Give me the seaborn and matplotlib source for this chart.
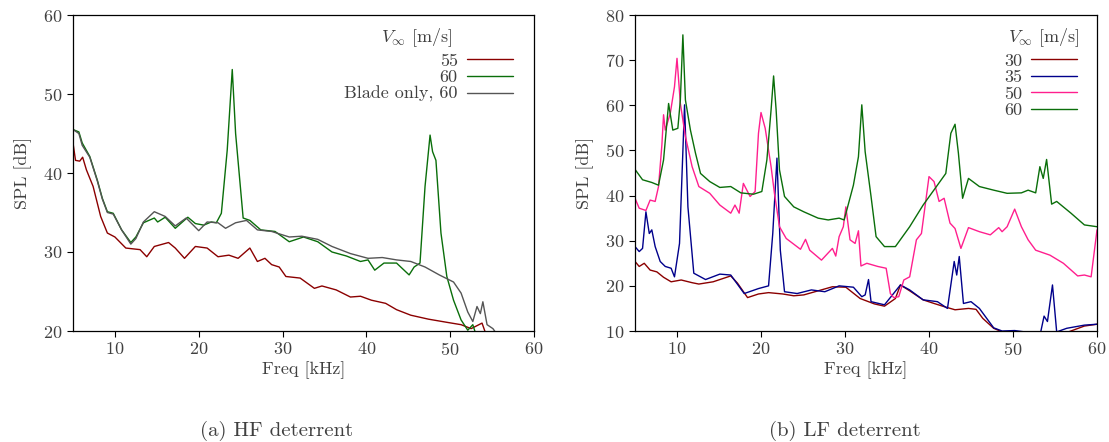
import numpy as np
import pandas as pd
import matplotlib
matplotlib.use("Agg")
import matplotlib.pyplot as plt
import seaborn as sns

# %% data (freq in kHz, SPL in dB)

# (a) HF deterrent
hf_55_f = [5.0, 5.3, 5.8, 6.15, 6.6, 7.4, 8.3, 9.1, 10.0, 11.3, 13.0, 13.8, 14.7, 16.4, 17.2, 18.3,
           19.6, 21.0, 22.3, 23.6, 24.7, 26.1, 27.0, 27.9, 28.7, 29.6, 30.4, 32.1, 33.8, 34.7, 36.4,
           38.1, 39.3, 40.6, 42.3, 43.6, 45.3, 47.4, 49.6, 51.3, 52.5, 53.8, 54.2]
hf_55_s = [43.8, 41.6, 41.5, 42.0, 40.4, 38.3, 34.5, 32.4, 31.9, 30.5, 30.3, 29.4, 30.7, 31.2, 30.5, 29.2,
           30.7, 30.5, 29.4, 29.6, 29.2, 30.5, 28.8, 29.2, 28.4, 28.1, 26.9, 26.7, 25.4, 25.7, 25.2,
           24.3, 24.4, 23.9, 23.5, 22.7, 22.0, 21.5, 21.1, 20.8, 20.3, 21.0, 19.8]

hf_60_f = [5.0, 5.7, 6.1, 7.0, 7.9, 8.5, 9.1, 9.8, 10.8, 11.9, 12.5, 13.4, 14.7, 15.1, 16.0, 17.2,
           18.7, 19.6, 20.6, 21.5, 22.1, 22.7, 23.4, 24.0, 24.4, 25.3, 26.1, 27.4, 29.1, 30.8, 32.5,
           34.2, 35.9, 37.6, 39.3, 40.2, 41.0, 42.1, 43.6, 45.1, 45.7, 46.4, 47.0, 47.6, 47.9, 48.3,
           48.9, 49.6, 50.4, 51.3, 52.1, 52.7, 53.0]
hf_60_s = [45.5, 45.2, 43.8, 42.1, 39.1, 36.8, 35.1, 34.9, 32.8, 31.2, 31.9, 33.7, 34.3, 33.8, 34.4, 33.0,
           34.4, 33.6, 33.4, 33.8, 33.7, 34.9, 42.9, 53.1, 45.0, 34.3, 34.0, 32.8, 32.6, 31.3, 31.9,
           31.3, 30.0, 29.5, 28.8, 29.0, 27.7, 28.6, 28.6, 27.1, 28.1, 28.6, 38.3, 44.8, 42.7, 41.6,
           32.4, 26.9, 23.9, 21.4, 20.1, 20.8, 19.8]

hf_blade_f = [5.0, 5.7, 6.1, 7.0, 7.9, 8.5, 9.1, 9.8, 10.8, 11.9, 12.5, 13.4, 14.7, 16.0, 17.2, 18.5,
              20.0, 21.0, 22.3, 23.2, 24.4, 25.7, 27.0, 28.7, 30.8, 32.3, 34.2, 35.9, 38.1, 40.2, 41.9,
              43.6, 45.3, 47.0, 48.7, 50.4, 51.3, 52.1, 52.7, 53.2, 53.6, 53.9, 54.4, 55.1, 55.3, 55.6]
hf_blade_s = [45.5, 45.0, 43.5, 42.0, 39.0, 36.7, 35.0, 34.8, 32.8, 31.0, 31.7, 33.8, 35.1, 34.5, 33.3, 34.3,
              32.7, 33.8, 33.7, 33.0, 33.7, 34.0, 32.8, 32.6, 31.9, 32.0, 31.6, 30.7, 29.8, 29.2, 29.3,
              29.0, 28.8, 28.1, 27.1, 26.2, 24.8, 22.4, 21.2, 23.1, 22.2, 23.7, 20.8, 20.3, 20.0, 19.5]

# (b) LF deterrent
lf_30_f = [5.0, 5.5, 6.1, 6.8, 7.6, 8.4, 9.3, 10.5, 11.8, 12.6, 14.3, 16.4, 17.2, 18.4, 19.7, 20.9,
           22.6, 23.9, 25.1, 26.8, 28.5, 30.1, 31.8, 33.5, 34.7, 36.0, 36.6, 37.7, 39.3, 40.6, 41.8,
           43.1, 44.7, 45.6, 46.4, 47.7, 48.7, 52.0, 56.6, 58.5, 60.0]
lf_30_s = [25.4, 24.3, 25.0, 23.5, 23.1, 21.9, 20.9, 21.3, 20.7, 20.4, 20.9, 22.2, 20.6, 17.4, 18.2, 18.5,
           18.2, 17.8, 18.0, 18.9, 19.8, 19.7, 17.2, 16.0, 15.5, 17.2, 20.2, 18.9, 16.9, 16.1, 15.4,
           14.7, 15.0, 14.8, 12.8, 10.6, 9.8, 9.5, 9.8, 11.1, 11.5]

lf_35_f = [5.0, 5.5, 5.9, 6.3, 6.7, 7.0, 7.4, 8.0, 8.6, 9.3, 9.7, 10.3, 10.9, 11.3, 12.0, 13.4, 15.1,
           16.4, 18.0, 19.7, 20.9, 21.4, 21.9, 22.3, 22.8, 24.3, 26.0, 27.6, 29.3, 31.0, 32.0, 32.4,
           32.8, 33.1, 34.7, 36.6, 37.7, 39.3, 41.0, 42.2, 43.0, 43.3, 43.6, 44.1, 45.0, 46.0, 47.7,
           48.7, 50.2, 51.4, 53.3, 53.7, 54.1, 54.7, 55.2, 56.4, 58.5, 60.0]
lf_35_s = [28.7, 27.6, 28.3, 36.4, 31.6, 32.4, 28.7, 25.4, 24.3, 23.9, 22.0, 29.4, 60.1, 37.5, 22.8, 21.4, 22.6,
           22.4, 18.3, 19.4, 20.0, 31.6, 48.3, 27.9, 18.7, 18.3, 19.1, 18.7, 20.0, 19.7, 17.6, 18.0,
           21.4, 16.5, 15.8, 20.2, 19.1, 16.9, 16.5, 15.0, 25.4, 22.4, 26.5, 16.1, 16.5, 15.0, 10.7,
           10.0, 10.1, 9.8, 9.8, 13.3, 12.1, 20.2, 9.8, 10.6, 11.3, 11.5]

lf_50_f = [5.0, 5.5, 6.3, 6.8, 7.4, 7.8, 8.2, 8.4, 8.6, 9.2, 9.7, 10.0, 10.4, 11.0, 11.8, 12.6, 13.9,
           15.1, 16.4, 16.9, 17.4, 17.9, 18.7, 19.3, 19.7, 20.0, 20.5, 21.2, 21.6, 22.2, 23.0, 24.7,
           25.3, 25.8, 27.2, 28.5, 28.9, 29.3, 29.8, 30.1, 30.6, 31.2, 31.6, 31.9, 32.6, 33.9, 34.9,
           35.4, 35.8, 36.4, 37.0, 37.7, 38.5, 39.1, 40.0, 40.6, 41.2, 41.8, 42.5, 43.1, 43.8, 44.7,
           46.0, 47.3, 48.3, 48.7, 49.3, 50.2, 51.0, 51.8, 52.7, 54.4, 56.0, 57.7, 58.5, 59.3, 60.0]
lf_50_s = [39.4, 37.2, 36.7, 39.0, 38.7, 42.0, 51.2, 57.9, 54.5, 58.2, 64.1, 70.4, 60.4, 53.1, 46.4, 42.0, 40.5,
           37.9, 36.1, 37.9, 36.1, 42.7, 39.8, 40.9, 53.8, 58.4, 54.9, 46.4, 40.5, 33.1, 30.5, 28.1,
           30.3, 27.9, 25.7, 28.3, 26.6, 30.9, 33.1, 37.5, 30.2, 29.4, 32.2, 24.4, 25.0, 24.3, 23.9,
           18.3, 17.4, 17.6, 21.3, 22.0, 30.2, 31.6, 44.2, 43.1, 38.7, 39.4, 33.9, 32.7, 28.3, 32.9,
           32.0, 31.3, 32.9, 32.0, 33.1, 37.0, 33.1, 30.2, 27.9, 26.8, 25.0, 22.2, 22.4, 22.0, 32.4]

lf_60_f = [5.0, 5.9, 7.0, 7.8, 8.4, 9.0, 9.5, 10.1, 10.4, 10.7, 11.0, 11.6, 12.2, 12.8, 13.9, 15.1,
           16.4, 17.6, 19.1, 20.1, 20.7, 21.2, 21.5, 21.8, 22.2, 22.8, 23.9, 25.1, 26.8, 28.0, 29.3,
           29.9, 31.0, 31.6, 32.0, 32.4, 33.1, 33.7, 34.7, 36.0, 37.7, 39.3, 41.0, 42.0, 42.6, 43.1,
           43.5, 44.0, 44.7, 46.0, 47.7, 49.3, 51.0, 51.8, 52.7, 53.2, 53.6, 54.0, 54.6, 55.2, 56.9,
           58.5, 60.0]
lf_60_s = [45.8, 43.5, 42.9, 42.3, 47.9, 60.4, 54.5, 54.9, 61.2, 75.6, 61.2, 54.5, 49.4, 44.9, 43.1, 41.8,
           42.0, 40.6, 40.3, 40.9, 47.9, 59.0, 66.5, 59.0, 45.7, 39.8, 37.5, 36.4, 35.0, 34.6, 35.0,
           34.6, 42.3, 48.6, 60.1, 49.7, 39.8, 30.9, 28.7, 28.7, 33.1, 37.9, 42.3, 44.9, 53.8, 55.8,
           49.4, 39.4, 43.8, 42.0, 41.2, 40.5, 40.6, 41.2, 40.6, 46.4, 43.8, 48.0, 38.1, 38.7, 36.1,
           33.5, 33.1]

# %% style
sns.set_style("ticks")
plt.rcParams["font.family"] = "serif"
plt.rcParams["font.serif"] = ["cmr10", "DejaVu Serif"]
plt.rcParams["mathtext.fontset"] = "cm"
plt.rcParams["axes.formatter.use_mathtext"] = True
plt.rcParams["font.size"] = 13
text_col = "#404040"

fig = plt.figure(figsize=(11.09, 4.42), dpi=100)
ax_hf = fig.add_axes([73 / 1109, 111 / 442, 461 / 1109, 316 / 442])
ax_lf = fig.add_axes([635 / 1109, 111 / 442, 462 / 1109, 316 / 442])

hf_series = [
    ("55", hf_55_f, hf_55_s, "#8b0000"),
    ("60", hf_60_f, hf_60_s, "#0a6e0a"),
    ("Blade only, 60", hf_blade_f, hf_blade_s, "#555555"),
]
lf_series = [
    ("30", lf_30_f, lf_30_s, "#8b0000"),
    ("35", lf_35_f, lf_35_s, "#00008b"),
    ("50", lf_50_f, lf_50_s, "#ff1f8e"),
    ("60", lf_60_f, lf_60_s, "#0a6e0a"),
]


def draw_panel(ax, series, ylim, yticks, title_x, leg_x):
    for label, f, s, col in series:
        df = pd.DataFrame({"freq": f, "spl": s})
        sns.lineplot(data=df, x="freq", y="spl", ax=ax, color=col, lw=1.0,
                     label=label, estimator=None, sort=False)
    ax.set_xlim(5, 60)
    ax.set_ylim(*ylim)
    ax.set_xticks([10, 20, 30, 40, 50, 60])
    ax.set_yticks(yticks)
    ax.tick_params(direction="out", length=4, width=0.8, colors="black",
                   labelcolor=text_col, labelsize=13, top=False, right=False)
    for sp in ax.spines.values():
        sp.set_visible(True)
        sp.set_linewidth(0.9)
        sp.set_color("black")
    ax.set_xlabel("Freq [kHz]", color=text_col, fontsize=13, labelpad=2)
    ax.set_ylabel("SPL [dB]", color=text_col, fontsize=13, labelpad=8)
    leg = ax.legend(loc="upper right", bbox_to_anchor=(leg_x, 0.88),
                    frameon=False, markerfirst=False, fontsize=13,
                    handlelength=2.55, labelspacing=0.05, handletextpad=0.5,
                    borderpad=0, borderaxespad=0)
    for t in leg.get_texts():
        t.set_color(text_col)
    leg._legend_box.align = "right"
    ax.text(title_x, 0.927, r"$V_\infty$ [m/s]", transform=ax.transAxes,
            ha="right", va="center", fontsize=13, color=text_col)


draw_panel(ax_hf, hf_series, (20, 60), [20, 30, 40, 50, 60], 0.824, 0.954)
draw_panel(ax_lf, lf_series, (10, 80), [10, 20, 30, 40, 50, 60, 70, 80], 0.961, 0.957)

# subfigure captions
fig.text(277 / 1109, 0.024, "(a) HF deterrent", ha="center", va="center", fontsize=15, color=text_col)
fig.text(845 / 1109, 0.024, "(b) LF deterrent", ha="center", va="center", fontsize=15, color=text_col)

fig.savefig("out.png", dpi=100)
